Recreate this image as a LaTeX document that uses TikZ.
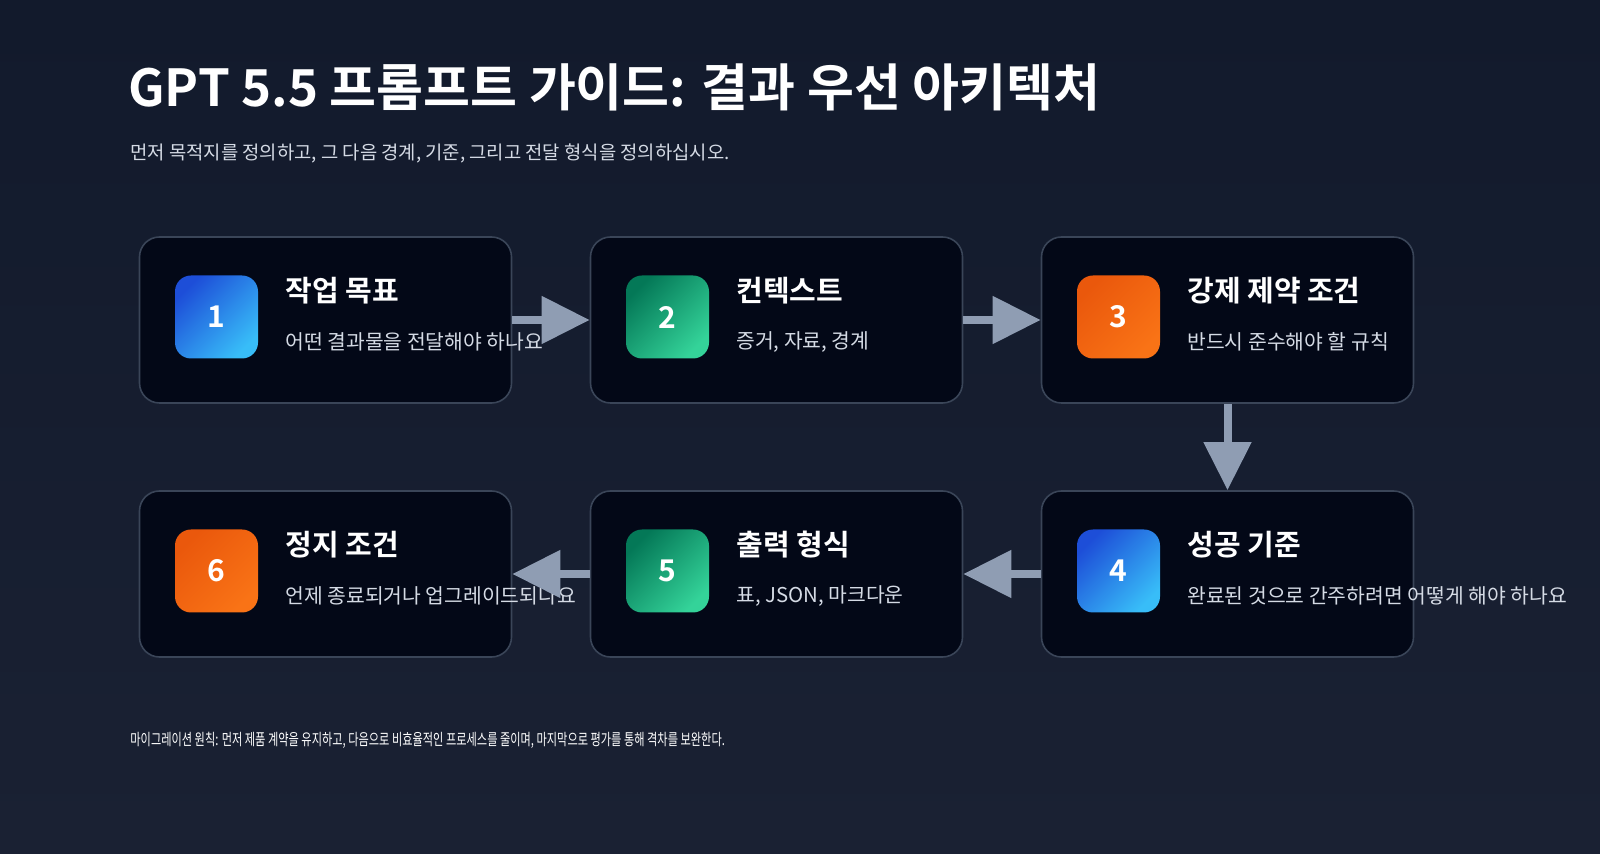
\documentclass[tikz,border=0pt]{standalone}
\usepackage{fontspec}
\setmainfont{Noto Sans CJK KR}
\newfontfamily\boldkr{Noto Sans CJK KR Bold}
\usetikzlibrary{positioning,arrows.meta}
\definecolor{bgtop}{HTML}{121A2C}
\definecolor{bgbot}{HTML}{1A2133}
\definecolor{cardfill}{HTML}{030817}
\definecolor{cardline}{HTML}{3A4558}
\definecolor{arrowgray}{HTML}{8F9DB3}
\definecolor{subtext}{HTML}{D5DBE5}
\definecolor{blueA}{HTML}{1D4ED8}\definecolor{blueB}{HTML}{38BDF8}
\definecolor{greenA}{HTML}{047857}\definecolor{greenB}{HTML}{34D399}
\definecolor{orangeA}{HTML}{EA580C}\definecolor{orangeB}{HTML}{F97316}
\tikzset{
  card/.style={draw=cardline,line width=0.8pt,fill=cardfill,rounded corners=10pt,
    minimum width=186pt,minimum height=83pt,inner sep=0pt},
  badge/.style={rounded corners=8pt,minimum size=41.5pt,inner sep=0pt,
    text=white,font=\boldkr\fontsize{15}{15}\selectfont},
  blue badge/.style={badge,left color=blueA,right color=blueB,shading angle=45},
  green badge/.style={badge,left color=greenA,right color=greenB,shading angle=45},
  orange badge/.style={badge,left color=orangeA,right color=orangeB,shading angle=45},
  head/.style={anchor=west,text=white,inner sep=0pt,font=\boldkr\fontsize{14.5}{14.5}\selectfont},
  sub/.style={anchor=west,text=subtext,inner sep=0pt,font=\fontsize{10.2}{10.2}\selectfont},
  flow/.style={draw=arrowgray,line width=4pt,-{Triangle[length=24pt,width=23pt]}}
}
\begin{document}
\begin{tikzpicture}[x=0.5pt,y=-0.5pt]
  \useasboundingbox (0,0) rectangle (1600,854);
  \fill[top color=bgtop,bottom color=bgbot] (0,0) rectangle (1600,854);
  % title and subtitle
  \node[anchor=west,text=white,inner sep=0pt,font=\boldkr\fontsize{25.5}{25.5}\selectfont] (title) at (128,87) {GPT 5.5 프롬프트 가이드: 결과 우선 아키텍처};
  \node[anchor=west,text=subtext,inner sep=0pt,font=\fontsize{9.4}{9.4}\selectfont] (lead) at (130,153) {먼저 목적지를 정의하고, 그 다음 경계, 기준, 그리고 전달 형식을 정의하십시오.};
  % cards
  \node[card] (c1) at (325.5,320) {};
  \node[card] (c2) at (776.5,320) {};
  \node[card] (c3) at (1227.5,320) {};
  \node[card] (c6) at (325.5,574) {};
  \node[card] (c5) at (776.5,574) {};
  \node[card] (c4) at (1227.5,574) {};
  % badges
  \node[blue badge] (b1) at (216.5,317) {1};
  \node[green badge] (b2) at (667.5,317) {2};
  \node[orange badge] (b3) at (1118.5,317) {3};
  \node[blue badge] (b4) at (1118.5,571) {4};
  \node[green badge] (b5) at (667.5,571) {5};
  \node[orange badge] (b6) at (216.5,571) {6};
  % texts
  \node[head] (h1) at (285,291) {작업 목표};
  \node[sub] (s1) at (285,342) {어떤 결과물을 전달해야 하나요};
  \node[head] (h2) at (736,291) {컨텍스트};
  \node[sub] (s2) at (736,342) {증거, 자료, 경계};
  \node[head] (h3) at (1187,291) {강제 제약 조건};
  \node[sub] (s3) at (1187,342) {반드시 준수해야 할 규칙};
  \node[head] (h4) at (1187,545) {성공 기준};
  \node[sub] (s4) at (1187,596) {완료된 것으로 간주하려면 어떻게 해야 하나요};
  \node[head] (h5) at (736,545) {출력 형식};
  \node[sub] (s5) at (736,596) {표, JSON, 마크다운};
  \node[head] (h6) at (285,545) {정지 조건};
  \node[sub] (s6) at (285,596) {언제 종료되거나 업그레이드되나요};
  % connectors
  \draw[flow] (c1.east) -- (c2.west);
  \draw[flow] (c2.east) -- (c3.west);
  \draw[flow] (c3.south) -- (c4.north);
  \draw[flow] (c4.west) -- (c5.east);
  \draw[flow] (c5.west) -- (c6.east);
  % footer
  \node[anchor=west,text=white,inner sep=0pt,font=\fontsize{8}{8}\selectfont] (foot) at (130,740)
    {\addfontfeature{FakeStretch=0.70}마이그레이션 원칙: 먼저 제품 계약을 유지하고, 다음으로 비효율적인 프로세스를 줄이며, 마지막으로 평가를 통해 격차를 보완한다.};
\end{tikzpicture}
\end{document}
